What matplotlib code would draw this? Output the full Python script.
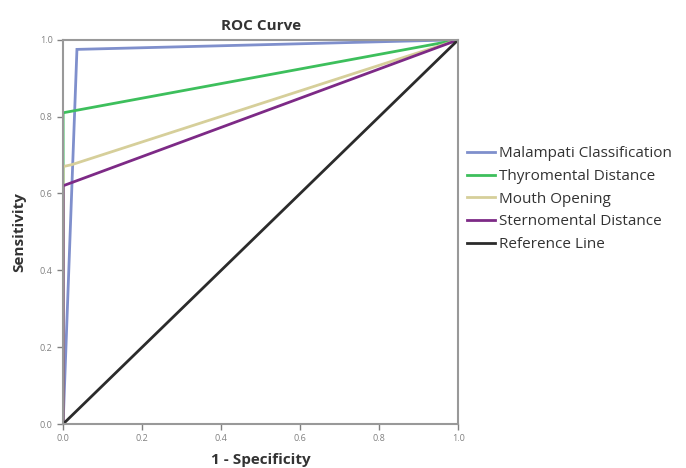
import numpy as np
import matplotlib
matplotlib.use("Agg")
from matplotlib import pyplot as plt

plt.rcParams['font.family'] = ['Open Sans', 'DejaVu Sans']

# ROC curve points (1 - specificity, sensitivity)
names = ['Malampati Classification', 'Thyromental Distance', 'Mouth Opening',
         'Sternomental Distance', 'Reference Line']
fpr = [
    [0.0, 0.035, 1.0],
    [0.0, 0.0, 1.0],
    [0.0, 0.0, 0.022, 1.0],
    [0.0, 0.0, 1.0],
    [0.0, 1.0],
]
tpr = [
    [0.0, 0.975, 1.0],
    [0.0, 0.81, 1.0],
    [0.0, 0.67, 0.675, 1.0],
    [0.0, 0.62, 1.0],
    [0.0, 1.0],
]
colors = ['#7f8fcc', '#3dbf5c', '#d6cf9a', '#7d2a86', '#2b2b2b']
ticks = [0.0, 0.2, 0.4, 0.6, 0.8, 1.0]

fig = plt.figure(figsize=(6.86, 4.68), dpi=100)
ax = fig.add_axes([0.092, 0.094, 0.576, 0.821])

for x, y, c, n in zip(fpr, tpr, colors, names):
    ax.plot(x, y, color=c, lw=2, label=n, solid_joinstyle='miter')

ax.set_xlim(0, 1)
ax.set_ylim(0, 1)
ax.set_xticks(ticks)
ax.set_yticks(ticks)
ax.set_xticklabels(['%.1f' % t for t in ticks])
ax.set_yticklabels(['%.1f' % t for t in ticks])
ax.tick_params(labelsize=6.5, colors='#808080', length=4, width=1)
for s in ax.spines.values():
    s.set_color('#999999')
    s.set_linewidth(1.5)

ax.set_title('ROC Curve', fontsize=11, fontweight='bold', color='#333333', pad=7)
ax.set_xlabel('1 - Specificity', fontsize=11, fontweight='bold', color='#333333', labelpad=7)
ax.set_ylabel('Sensitivity', fontsize=11, fontweight='bold', color='#333333', labelpad=10)

ax.legend(loc='center left', bbox_to_anchor=(1.0, 0.585), frameon=False,
          fontsize=11, handlelength=1.8, handletextpad=0.3, labelspacing=0.5,
          borderaxespad=0.2, labelcolor='#333333')

fig.savefig('out.png', dpi=100)
